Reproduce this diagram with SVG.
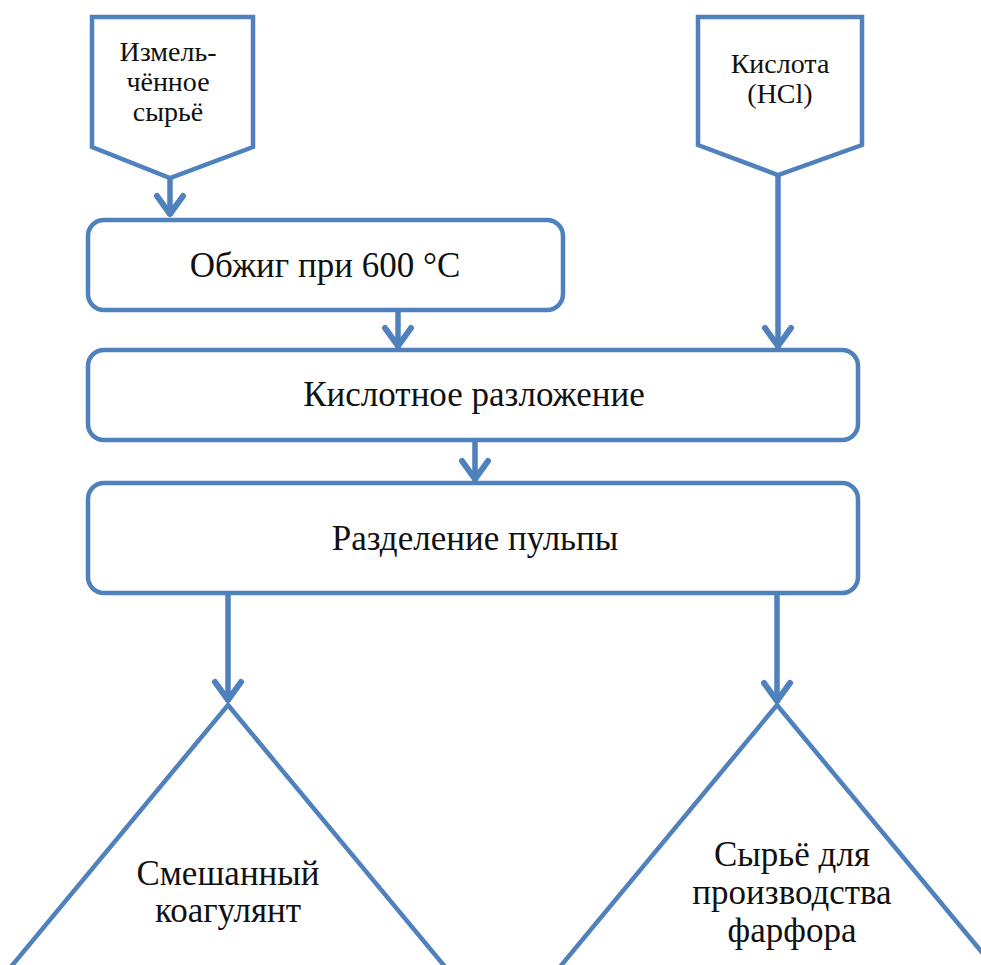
<svg xmlns="http://www.w3.org/2000/svg" width="981" height="965" viewBox="0 0 981 965">
<style>
.shape{fill:#ffffff;stroke:#4f81bd;stroke-width:4.5;stroke-linejoin:miter}
.conn{fill:none;stroke:#4f81bd;stroke-width:5.5}
.t{fill:#111111;text-anchor:middle;font-family:'Times New Roman','Liberation Serif','DejaVu Serif',serif}
.big{font-size:35px}
.mid{font-size:35px}
.sm{font-size:28px}
</style>
<defs>
<marker id="chev" markerUnits="userSpaceOnUse" viewBox="-26 -20 30 40" refX="0" refY="0" markerWidth="30" markerHeight="40" orient="auto">
<path d="M-20,-13 L-2,0 L-20,13" fill="none" stroke="#4f81bd" stroke-width="6" stroke-linecap="round" stroke-linejoin="round"/>
</marker>
</defs>
<rect width="981" height="965" fill="#ffffff"/>
<g id="connectors">
<path class="conn" d="M170,177 L170,216" marker-end="url(#chev)"/>
<path class="conn" d="M778,174 L778,348" marker-end="url(#chev)"/>
<path class="conn" d="M398,310 L398,348" marker-end="url(#chev)"/>
<path class="conn" d="M475,440 L475,481" marker-end="url(#chev)"/>
<path class="conn" d="M228,593 L228,702" marker-end="url(#chev)"/>
<path class="conn" d="M777,593 L777,703" marker-end="url(#chev)"/>
</g>
<g id="raw">
<polygon class="shape" points="92,17 253,17 253,147 170,178 92,147"/>
<text class="t sm" x="168" y="61">Измель-</text>
<text class="t sm" x="168" y="91">чённое</text>
<text class="t sm" x="168" y="121">сырьё</text>
</g>
<g id="acid">
<polygon class="shape" points="698,17 862,17 862,145 778,175 698,145"/>
<text class="t sm" x="780" y="73">Кислота</text>
<text class="t sm" x="780" y="103">(HCl)</text>
</g>
<g id="firing">
<rect class="shape" x="88" y="220" width="475" height="90" rx="16"/>
<text class="t big" x="325" y="277">Обжиг при 600 °С</text>
</g>
<g id="decomp">
<rect class="shape" x="88" y="350" width="770" height="90" rx="16"/>
<text class="t big" x="474" y="406">Кислотное разложение</text>
</g>
<g id="separation">
<rect class="shape" x="88" y="483" width="770" height="110" rx="16"/>
<text class="t big" x="475" y="550">Разделение пульпы</text>
</g>
<g id="coagulant">
<polygon class="shape" points="228,705 446,968 10,968"/>
<text class="t mid" x="228" y="885">Смешанный</text>
<text class="t mid" x="228" y="922">коагулянт</text>
</g>
<g id="porcelain">
<polygon class="shape" points="777,705 995,968 559,968"/>
<text class="t mid" x="792" y="866">Сырьё для</text>
<text class="t mid" x="792" y="904">производства</text>
<text class="t mid" x="792" y="942">фарфора</text>
</g>
</svg>
